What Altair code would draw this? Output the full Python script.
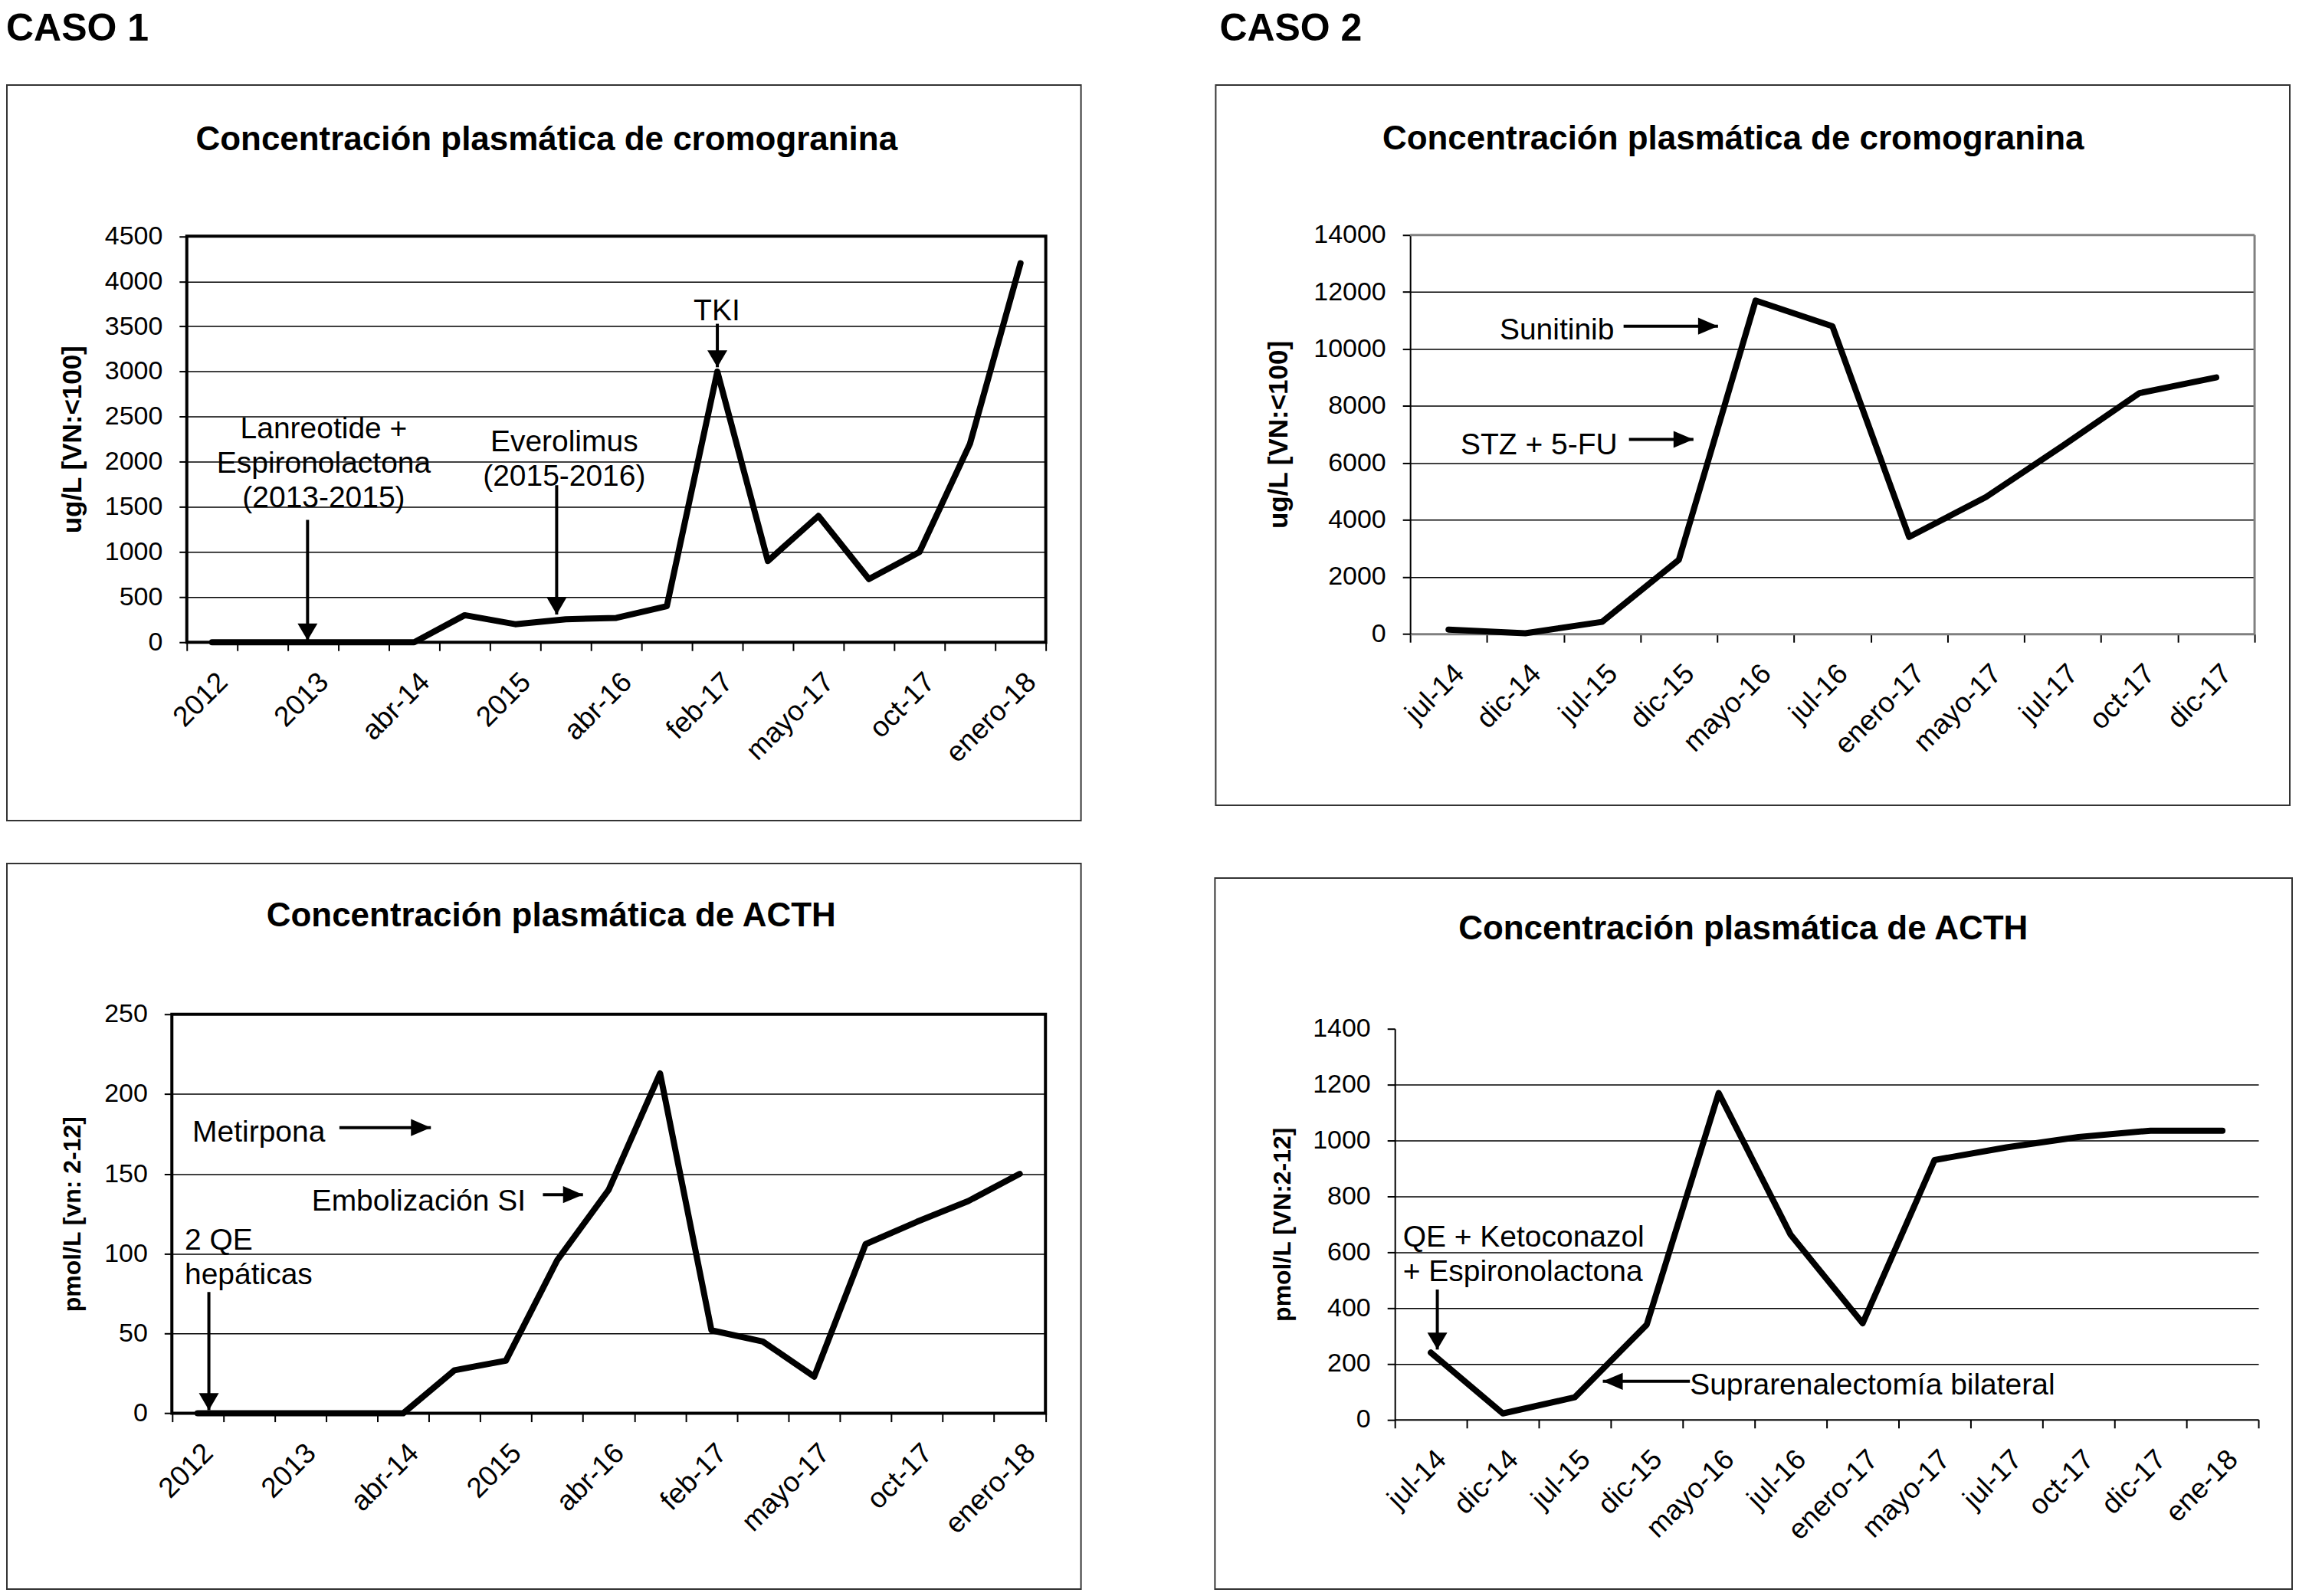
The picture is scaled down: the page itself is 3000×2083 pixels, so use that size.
import json
import altair as alt
import pandas as pd

FONT = "Liberation Sans"

# ---------------- data ----------------
case1_cats = ["2012", "", "2013", "", "abr-14", "", "2015", "", "abr-16", "",
              "feb-17", "", "mayo-17", "", "oct-17", "", "enero-18"]
case1_cromo = [0, 0, 0, 0, 0, 300, 200, 255, 270, 400, 3000, 900, 1400, 700, 1000, 2200, 4200]
case1_acth = [0, 0, 0, 0, 0, 27, 33, 96, 140, 213, 52, 45, 23, 106, 120, 133, 150]

case2_cromo_cats = ["jul-14", "dic-14", "jul-15", "dic-15", "mayo-16", "jul-16",
                    "enero-17", "mayo-17", "jul-17", "oct-17", "dic-17"]
case2_cromo = [150, 20, 420, 2600, 11700, 10800, 3400, 4800, 6600, 8450, 9000]

case2_acth_cats = ["jul-14", "dic-14", "jul-15", "dic-15", "mayo-16", "jul-16",
                   "enero-17", "mayo-17", "jul-17", "oct-17", "dic-17", "ene-18"]
case2_acth = [240, 22, 80, 340, 1170, 662, 345, 930, 975, 1012, 1035, 1035]

# annotations, in data coordinates (category index, value)
c1_cromo_text_x = [2.21, 6.97, 9.99]
c1_cromo_text_y = [2257, 2116, 3572]
c1_cromo_text = ["Lanreotide +\nEspironolactona\n(2013-2015)", "Everolimus\n(2015-2016)", "TKI"]
c1_cromo_arrows = [(1.89, 1357, 1.89, 20, "down"), (6.82, 1740, 6.82, 308, "down"),
                   (10.0, 3530, 10.0, 3048, "down")]

c1_acth_text_x = [-0.10, 2.22, -0.25]
c1_acth_text_y = [170.4, 126.8, 102.3]
c1_acth_text = ["Metirpona", "Embolización SI", "2 QE\nhepáticas"]
c1_acth_arrows = [(2.76, 179, 4.54, 179, "right"), (6.72, 137, 7.5, 137, "right"),
                  (0.22, 76, 0.22, 2, "down")]

c2_cromo_text_x = [0.666, 0.158]
c2_cromo_text_y = [10345, 6288]
c2_cromo_text = ["Sunitinib", "STZ + 5-FU"]
c2_cromo_arrows = [(2.28, 10802, 3.51, 10802, "right"), (2.35, 6825, 3.19, 6825, "right")]

c2_acth_text_x = [-0.388, 3.6]
c2_acth_text_y = [620, 89.4]
c2_acth_text = ["QE + Ketoconazol\n+ Espironolactona", "Suprarenalectomía bilateral"]
c2_acth_arrows = [(0.09, 466, 0.09, 251, "down"), (3.6, 137, 2.39, 137, "left")]

TITLE_CROMO = "Concentración plasmática de cromogranina"
TITLE_ACTH = "Concentración plasmática de ACTH"

HEADS = {
    "down": "M-1,-1.7L0,0L1,-1.7Z",
    "right": "M-2,-0.85L0,0L-2,0.85Z",
    "left": "M2,-0.85L0,0L2,0.85Z",
}

one = pd.DataFrame({"k": [0]})


def make_panel(cats, vals, ymax, ystep, view, xr, yr, yoff,
               ytitle, ytitle_size, title_pad, style,
               tx, ty, tt, talign, arrows, deco, anchor=None):
    """view = (width, height) of the view; xr / yr = pixel ranges inside the view."""
    n = len(cats)
    catw = (xr[1] - xr[0]) / n
    xs = alt.Scale(domain=[-0.5, n - 0.5], range=list(xr), nice=False, zero=False)
    ys = alt.Scale(domain=[0, ymax], range=list(yr), nice=False, zero=False)

    if style == "box":
        xdom = dict(domain=False)
        ydom = dict(domain=False)
    elif style == "gray":
        xdom = dict(domain=True, domainColor="#7f7f7f", domainWidth=3)
        ydom = dict(domain=True, domainColor="black", domainWidth=2)
    else:
        xdom = dict(domain=True, domainColor="black", domainWidth=2)
        ydom = dict(domain=True, domainColor="black", domainWidth=2)

    # ticks sit on category boundaries; each label is drawn from the boundary on the
    # right of its category and shifted back to the category centre
    xaxis = alt.Axis(
        orient="bottom",
        values=[k - 0.5 for k in range(n + 1)],
        labelExpr=json.dumps(cats) + "[datum.value - 0.5] || ''",
        labelAngle=315, labelAlign="right", labelBaseline="middle",
        labelOffset=-catw / 2 + 14, labelPadding=35,
        labelFont=FONT, labelFontSize=37, labelColor="black",
        labelOverlap=False, labelBound=False, labelFlush=False,
        tickSize=11, tickWidth=2, tickColor="black", grid=False, title=None, **xdom)
    yaxis = alt.Axis(
        orient="left", offset=yoff,
        values=list(range(0, ymax + 1, ystep)), format="d",
        labelFont=FONT, labelFontSize=34, labelColor="black", labelPadding=22,
        tickSize=10, tickWidth=2, tickColor="black",
        grid=True, gridColor="black", gridWidth=1.5,
        gridOpacity={"condition": {"test": f"datum.value == 0 || datum.value == {ymax}",
                                   "value": 0}, "value": 1},
        title=ytitle, titleFont=FONT, titleFontSize=ytitle_size, titleFontWeight="bold",
        titleColor="black", titlePadding=title_pad, **ydom)

    def X(f):
        return alt.X(f, scale=xs, axis=xaxis)

    def Y(f):
        return alt.Y(f, scale=ys, axis=yaxis)

    df = pd.DataFrame({"i": list(range(n)), "v": vals})
    layers = [alt.Chart(df).mark_line(color="black", strokeWidth=8, strokeJoin="round",
                                      strokeCap="round").encode(x=X("i:Q"), y=Y("v:Q"))]

    if style == "box":
        bdf = pd.DataFrame({"x0": [-0.5], "x1": [n - 0.5], "y0": [0], "y1": [ymax]})
        layers.append(alt.Chart(bdf).mark_rect(fillOpacity=0, stroke="black", strokeWidth=4).encode(
            x=X("x0:Q"), x2="x1:Q", y=Y("y0:Q"), y2="y1:Q"))
    elif style == "gray":
        gdf = pd.DataFrame({"x0": [-0.5, n - 0.5], "x1": [n - 0.5, n - 0.5],
                            "y0": [ymax, 0], "y1": [ymax, ymax]})
        layers.append(alt.Chart(gdf).mark_rule(color="#808080", strokeWidth=3).encode(
            x=X("x0:Q"), x2="x1:Q", y=Y("y0:Q"), y2="y1:Q"))

    tdf = pd.DataFrame({"x": tx, "y": ty, "t": tt})
    layers.append(alt.Chart(tdf).mark_text(
        align=talign, baseline="alphabetic", font=FONT, fontSize=39, color="black",
        lineBreak="\n", lineHeight=45).encode(x=X("x:Q"), y=Y("y:Q"), text="t:N"))

    adf = pd.DataFrame(arrows, columns=["x0", "y0", "x1", "y1", "d"])
    layers.append(alt.Chart(adf).mark_rule(color="black", strokeWidth=4).encode(
        x=X("x0:Q"), x2="x1:Q", y=Y("y0:Q"), y2="y1:Q"))
    for d, path in HEADS.items():
        sub = adf[adf["d"] == d]
        if len(sub) == 0:
            continue
        layers.append(alt.Chart(sub).mark_point(
            shape=path, size=676, filled=True, color="black", opacity=1, strokeWidth=0).encode(
            x=X("x1:Q"), y=Y("y1:Q")))

    # panel frame, panel title and case heading (layout, pixels relative to the view)
    (bx1, by1, bx2, by2), (ttext, tx0, ty0), head = deco
    layers.append(alt.Chart(one).mark_rect(fillOpacity=0, stroke="#333333", strokeWidth=2).encode(
        x=alt.value(bx1), x2=alt.value(bx2), y=alt.value(by1), y2=alt.value(by2)))
    layers.append(alt.Chart(one).mark_text(
        text=ttext, align="center", baseline="alphabetic", font=FONT, fontSize=44,
        fontWeight="bold", color="black").encode(x=alt.value(tx0), y=alt.value(ty0)))
    if head is not None:
        htext, hx, hy = head
        layers.append(alt.Chart(one).mark_text(
            text=htext, align="left", baseline="alphabetic", font=FONT, fontSize=50,
            fontWeight="bold", color="black").encode(x=alt.value(hx), y=alt.value(hy)))
    if anchor is not None:
        ax, ay = anchor
        layers.append(alt.Chart(one).mark_rect(opacity=0, strokeWidth=0).encode(
            x=alt.value(ax), x2=alt.value(ax + 2), y=alt.value(ay), y2=alt.value(ay + 2)))
    return alt.layer(*layers).properties(width=view[0], height=view[1])


# view origins on the page: column A x=244, column B x=1842; row 1 y=306, row 2 y=1324
p1 = make_panel(case1_cats, case1_cromo, 4500, 500, (1122, 532), (0, 1122), (532, 1.6), 0,
                "ug/L [VN:<100]", 35, 24, "box",
                c1_cromo_text_x, c1_cromo_text_y, c1_cromo_text, "center", c1_cromo_arrows,
                ((-235, -196, 1168, 765), (TITLE_CROMO, 470, -111), ("CASO 1", -236, -254)),
                anchor=(-236, -298))
p2 = make_panel(case2_cromo_cats, case2_cromo, 14000, 2000, (1103, 521), (0, 1103), (521, 0), 0,
                "ug/L [VN:<100]", 35, 27, "gray",
                c2_cromo_text_x, c2_cromo_text_y, c2_cromo_text, "left", c2_cromo_arrows,
                ((-254, -196, 1149, 745), (TITLE_CROMO, 422, -112), ("CASO 2", -249, -254)))
p3 = make_panel(case1_cats, case1_acth, 250, 50, (1122, 521.4), (-19.5, 1121.6), (521.4, 0), 19.5,
                "pmol/L [vn: 2-12]", 32, 24, "box",
                c1_acth_text_x, c1_acth_text_y, c1_acth_text, "left", c1_acth_arrows,
                ((-235, -197, 1168, 751), (TITLE_ACTH, 476, -115), None))
p4 = make_panel(case2_acth_cats, case2_acth, 1400, 200, (1108, 529.6), (-20, 1108), (529.6, 19), 20,
                "pmol/L [VN:2-12]", 32, 22, "plain",
                c2_acth_text_x, c2_acth_text_y, c2_acth_text, "left", c2_acth_arrows,
                ((-255, -178, 1152, 751), (TITLE_ACTH, 435, -98), None))

chart = alt.concat(p1, p2, p3, p4, columns=2, spacing={"row": 486, "column": 476},
                   bounds="flush", align="all").properties(
    padding=0, autosize=alt.AutoSizeParams(type="pad"), background="white"
).configure_view(strokeWidth=0)

chart.save("out.html", embed_options={"renderer": "svg", "actions": False})
